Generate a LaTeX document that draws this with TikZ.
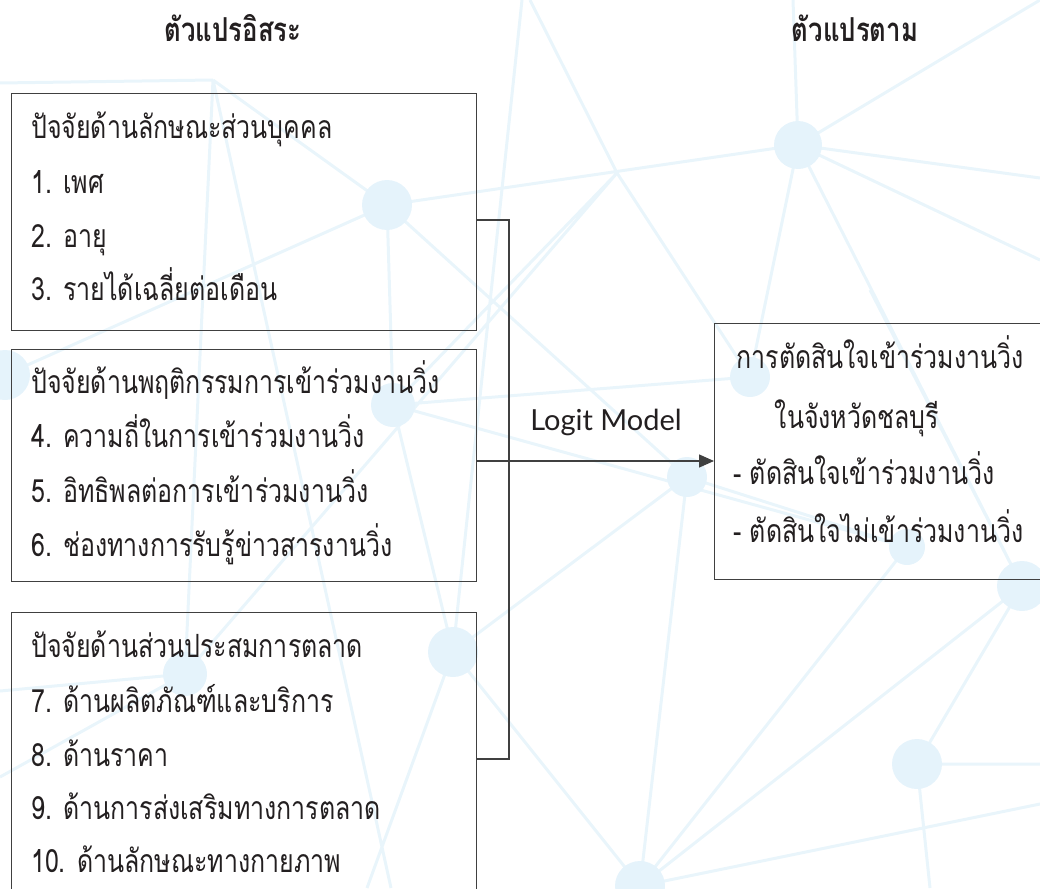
\documentclass[tikz,border=0pt]{standalone}
\usepackage{fontspec}
\newfontfamily\thai[Script=Thai, FakeStretch=0.78]{Loma}
\newfontfamily\latin{Lato}
\usetikzlibrary{arrows.meta}
\definecolor{netline}{RGB}{233,245,251}
\definecolor{netdot}{RGB}{229,243,251}
\definecolor{boxline}{RGB}{64,64,64}
\definecolor{ink}{RGB}{35,31,32}
\tikzset{
  box/.style={draw=boxline, line width=1.3pt, rectangle, anchor=north west, inner sep=0pt},
  txt/.style={font=\thai\fontsize{32}{36}\selectfont, inner sep=0pt, anchor=base west, text=ink},
  ctxt/.style={txt, anchor=base},
  head/.style={font=\thai\bfseries\fontsize{33}{36}\selectfont, inner sep=0pt, anchor=base, text=ink},
  lat/.style={font=\latin\fontsize{29}{32}\selectfont, inner sep=0pt, anchor=base, text=ink},
  net/.style={draw=netline, line width=3pt},
  dot/.style={circle, fill=netdot, inner sep=0pt},
  link/.style={draw=boxline, line width=1.3pt},
  arr/.style={link, -{Triangle[length=15pt,width=13pt]}},
}
\begin{document}
\begin{tikzpicture}[x=1pt,y=-1pt]
\useasboundingbox (0,0) rectangle (1040,888);
% background network
\begin{scope}
\clip (0,0) rectangle (1040,888);
\coordinate (A) at (387,205); \coordinate (B) at (798,145);
\coordinate (C) at (750,377); \coordinate (D) at (393,405);
\coordinate (E) at (185,674); \coordinate (F) at (453,652);
\coordinate (G) at (687,477); \coordinate (H) at (1022,586);
\coordinate (I) at (917,764); \coordinate (J) at (640,886);
\coordinate (K) at (907,547); \coordinate (L) at (5,375);
\coordinate (P) at (617,173); \coordinate (Q) at (213,80);
\draw[net] (A)--(B) (A)--(D) (A)--(G) (A)--(Q) (Q)--(0,83) (Q)--(391,888) (A)--(L)
  (B)--(1040,0) (B)--(1040,178) (B)--(C) (B)--(793,0) (B)--(H) (B)--(1040,260)
  (P)--(530,0) (P)--(C) (P)--(E) (P)--(D) (D)--(C) (D)--(K)
  (F)--(D) (F)--(G) (F)--(J) (F)--(367,888) (F)--(522,0)
  (E)--(0,691) (E)--(Q) (E)--(0,777)
  (J)--(G) (J)--(H) (J)--(K) (J)--(1040,804) (I)--(H) (I)--(1040,764) (I)--(930,888)
  (H)--(870,290) (G)--(K);
\foreach \p/\r in {A/50,B/48,C/40,D/44,E/44,F/50,G/40,H/50,I/50,J/50,K/36,L/50}
  \node[dot, minimum size=\r pt] at (\p) {};
\end{scope}
% headings
\node[head] (h1) at (233,42) {ตัวแปรอิสระ};
\node[head] (h2) at (855,42) {ตัวแปรตาม};
% boxes
\node[box, minimum width=465pt, minimum height=237pt] (b1) at (11,93) {};
\node[box, minimum width=465pt, minimum height=232pt] (b2) at (11,349) {};
\node[box, minimum width=465pt, minimum height=300pt] (b3) at (11,612) {};
\node[box, minimum width=340pt, minimum height=256pt] (out) at (714,323) {};
% box 1 text
\node[txt] (t11) at (31,138) {ปัจจัยด้านลักษณะส่วนบุคคล};
\node[txt] (t12) at (31,193) {1. เพศ};
\node[txt] (t13) at (31,247) {2. อายุ};
\node[txt] (t14) at (31,300) {3. รายได้เฉลี่ยต่อเดือน};
% box 2 text
\node[txt] (t21) at (31,393) {ปัจจัยด้านพฤติกรรมการเข้าร่วมงานวิ่ง};
\node[txt] (t22) at (31,447) {4. ความถี่ในการเข้าร่วมงานวิ่ง};
\node[txt] (t23) at (31,502) {5. อิทธิพลต่อการเข้าร่วมงานวิ่ง};
\node[txt] (t24) at (31,556) {6. ช่องทางการรับรู้ข่าวสารงานวิ่ง};
% box 3 text
\node[txt] (t31) at (31,657) {ปัจจัยด้านส่วนประสมการตลาด};
\node[txt] (t32) at (31,712) {7. ด้านผลิตภัณฑ์และบริการ};
\node[txt] (t33) at (31,766) {8. ด้านราคา};
\node[txt] (t34) at (31,819) {9. ด้านการส่งเสริมทางการตลาด};
\node[txt] (t35) at (31,872) {10. ด้านลักษณะทางกายภาพ};
% output box text
\node[ctxt] (o1) at (880,368) {การตัดสินใจเข้าร่วมงานวิ่ง};
\node[ctxt] (o2) at (857,428) {ในจังหวัดชลบุรี};
\node[txt] (o3) at (733,484) {- ตัดสินใจเข้าร่วมงานวิ่ง};
\node[txt] (o4) at (733,542) {- ตัดสินใจไม่เข้าร่วมงานวิ่ง};
% connectors
\coordinate (j1) at (509,220);
\coordinate (j3) at (509,759);
\coordinate (ay) at (0,461);
\draw[link] (b1.east |- j1) -- (j1) -- (j3) -- (b3.east |- j3);
\draw[arr] (b2.east |- ay) -- (out.west |- ay);
\node[lat] (lm) at (606,430) {Logit Model};
\end{tikzpicture}
\end{document}
